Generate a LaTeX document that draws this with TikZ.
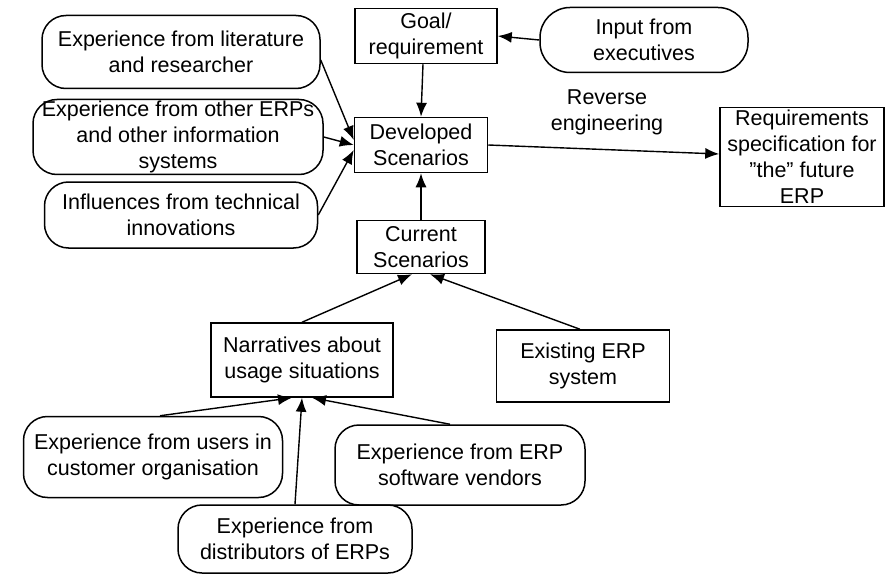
\documentclass[tikz,border=0pt]{standalone}
\usepackage{fontspec}
\setmainfont{Liberation Sans}
\usetikzlibrary{arrows.meta}
\begin{document}
\begin{tikzpicture}[x=1pt,y=-1pt,
  every node/.style={font=\fontsize{21.5}{26}\selectfont, align=center, inner sep=0pt},
  rbox/.style={draw, line width=1.5pt, rounded corners=24pt},
  sbox/.style={draw, line width=1.5pt},
  arr/.style={-{Latex[length=14pt,width=11pt]}, line width=1.4pt}]
\useasboundingbox (0,0) rectangle (889,575);
% left inputs
\node[rbox, minimum width=278, minimum height=73] (lit) at (181,52) {Experience from literature\\and researcher};
\node[rbox, minimum width=290, minimum height=75] (oth) at (178,137) {Experience from other ERPs\\and other information\\systems};
\node[rbox, minimum width=273, minimum height=66] (inf) at (181,215) {Influences from technical\\innovations};
% centre column
\node[sbox, minimum width=142, minimum height=55] (goal) at (426,36) {Goal/\\requirement};
\node[rbox, minimum width=208, minimum height=65, rounded corners=30pt] (inp) at (644,40) {Input from\\executives};
\node[sbox, minimum width=133, minimum height=55] (dev) at (421,145) {Developed\\Scenarios};
\node[sbox, minimum width=128, minimum height=53] (cur) at (421,247) {Current\\Scenarios};
\node[sbox, minimum width=164, minimum height=99] (req) at (802,157) {Requirements\\specification for\\"the" future\\ERP};
\node (rev) at (607,112) {Reverse\\engineering};
% lower part
\node[sbox, minimum width=182, minimum height=74] (nar) at (302,360) {Narratives about\\usage situations};
\node[sbox, minimum width=173, minimum height=72] (exi) at (583,366) {Existing ERP\\system};
\node[rbox, minimum width=259, minimum height=81] (usr) at (153,457) {Experience from users in\\customer organisation};
\node[rbox, minimum width=250, minimum height=80] (ven) at (460,465) {Experience from ERP\\software vendors};
\node[rbox, minimum width=234, minimum height=68] (dis) at (295,539) {Experience from\\distributors of ERPs};
% connectors
\draw[arr] ([yshift=-8pt]lit.east) -- ([yshift=5pt]dev.west);
\draw[arr] (oth.east) -- (dev.west);
\draw[arr] (inf.east) -- ([yshift=-5pt]dev.west);
\draw[arr] (inp.west) -- (goal.east);
\draw[arr] ([xshift=-3pt]goal.south) -- (dev.north);
\draw[arr] (cur.north) -- (dev.south);
\draw[arr] (dev.east) -- ([yshift=3pt]req.west);
\draw[arr] (nar.north) -- ([xshift=-9pt]cur.south);
\draw[arr] ([xshift=-3pt]exi.north) -- ([xshift=9pt]cur.south);
\draw[arr] ([xshift=7pt]usr.north) -- ([xshift=-10pt]nar.south);
\draw[arr] (dis.north) -- (nar.south);
\draw[arr] ([xshift=-10pt]ven.north) -- ([xshift=10pt]nar.south);
\end{tikzpicture}
\end{document}
